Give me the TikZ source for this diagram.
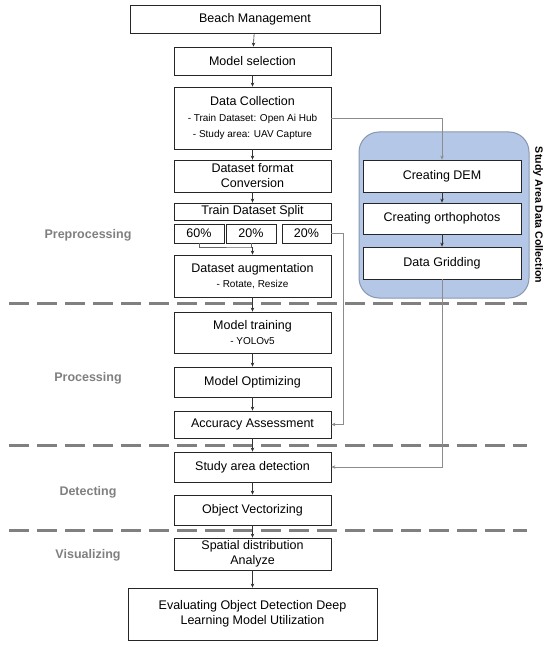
\documentclass[tikz,border=0pt]{standalone}
\usepackage{fontspec}
\setmainfont{Liberation Sans}
\usetikzlibrary{arrows.meta}
\definecolor{sepgray}{HTML}{808080}
\definecolor{phasegray}{HTML}{7F7F7F}
\definecolor{areablue}{HTML}{B4C7E7}
\definecolor{areaedge}{HTML}{8797AE}
\newcommand{\subline}[1]{{\fontsize{10}{12}\selectfont #1}}

\begin{document}
\begin{tikzpicture}[x=1pt, y=-1pt,
  box/.style={draw=black!85, fill=white, line width=0.8pt, minimum width=157pt,
              align=center, inner sep=1pt, font=\fontsize{12.5}{15}\selectfont},
  pct/.style={box, minimum width=50pt, minimum height=19pt},
  phase/.style={font=\fontsize{12.5}{15}\selectfont\bfseries, text=phasegray},
  arrow/.style={-{Stealth[length=4pt, width=3.5pt]}, line width=0.6pt, black!80},
  feed/.style={arrow, black!45},
  sep/.style={sepgray, line width=3pt, dash pattern=on 20pt off 8pt}
]
\useasboundingbox (0,0) rectangle (550,647);

% Study area panel
\node[draw=areaedge, fill=areablue, line width=1pt, rounded corners=20pt,
      minimum width=170pt, minimum height=166pt] (area) at (444,215) {};
\node[rotate=-90, font=\fontsize{10.6}{12}\selectfont\bfseries] (arealabel) at (538,215)
  {Study Area Data Collection};
\node[box, minimum width=158pt, minimum height=32pt] (dem) at (442,176) {Creating DEM};
\node[box, minimum width=158pt, minimum height=31pt] (ortho) at (442,218.5) {Creating orthophotos};
\node[box, minimum width=158pt, minimum height=32pt] (grid) at (442,263) {Data Gridding};

% Phase separators
\draw[sep] (9,303) -- (527,303);
\draw[sep] (9,445) -- (527,445);
\draw[sep] (9,530) -- (527,530);

% Phase labels
\node[phase] (prep) at (88,235) {Preprocessing};
\node[phase] (proc) at (88,378) {Processing};
\node[phase] (detc) at (88,492) {Detecting};
\node[phase] (visu) at (88,555) {Visualizing};

% Main column
\node[box, minimum width=250pt, minimum height=28pt] (beach) at (255,19) {Beach Management};
\node[box, minimum height=28pt] (select) at (252.5,61) {Model selection};
\node[box, minimum height=62pt] (collect) at (252.5,118)
  {Data Collection\\[1pt]\subline{- Train Dataset: Open Ai Hub}\\[1pt]\subline{- Study area: UAV Capture}};
\node[box, minimum height=32pt] (convert) at (252.5,176) {Dataset format\\Conversion};
\node[box, minimum height=17pt] (split) at (252.5,211.5) {Train Dataset Split};
\node[pct] (p60) at (199,233.5) {60\%};
\node[pct] (p20a) at (251,233.5) {20\%};
\node[pct, minimum width=49pt] (p20b) at (306.5,233.5) {20\%};
\node[box, minimum height=42pt] (augment) at (252.5,276) {Dataset augmentation\\\subline{- Rotate, Resize}};
\node[box, minimum height=41pt] (train) at (252.5,332.5) {Model training\\\subline{- YOLOv5}};
\node[box, minimum height=30pt] (optimize) at (252.5,382) {Model Optimizing};
\node[box, minimum height=27pt] (accuracy) at (252.5,424.5) {Accuracy Assessment};
\node[box, minimum height=30pt] (detect) at (252.5,467) {Study area detection};
\node[box, minimum height=30pt] (vector) at (252.5,510) {Object Vectorizing};
\node[box, minimum height=32pt] (spatial) at (252.5,554) {Spatial distribution\\Analyze};
\node[box, minimum width=249pt, minimum height=52pt] (evaluate) at (252.5,614)
  {Evaluating Object Detection Deep\\Learning Model Utilization};

% Flow arrows
\draw[arrow] (beach) -- (select);
\draw[arrow] (select) -- (collect);
\draw[arrow] (collect) -- (convert);
\draw[arrow] (convert) -- (split);
\coordinate (merge) at (252.5,247);
\draw[line width=0.6pt, black!60] (p60.south) |- (merge) -| (p20a.south);
\draw[arrow] (merge) -- (augment);
\draw[arrow] (augment) -- (train);
\draw[arrow] (train) -- (optimize);
\draw[arrow] (optimize) -- (accuracy);
\draw[arrow] (accuracy) -- (detect);
\draw[arrow] (detect) -- (vector);
\draw[arrow] (vector) -- (spatial);
\draw[arrow] (spatial) -- (evaluate);

% Side links
\draw[feed] (collect.east) -| (dem.north);
\draw[arrow] (dem) -- (ortho);
\draw[arrow] (ortho) -- (grid);
\draw[feed] (p20b.east) -- ++(12,0) |- (accuracy.east);
\draw[feed] (grid.south) |- (detect.east);

\end{tikzpicture}
\end{document}
